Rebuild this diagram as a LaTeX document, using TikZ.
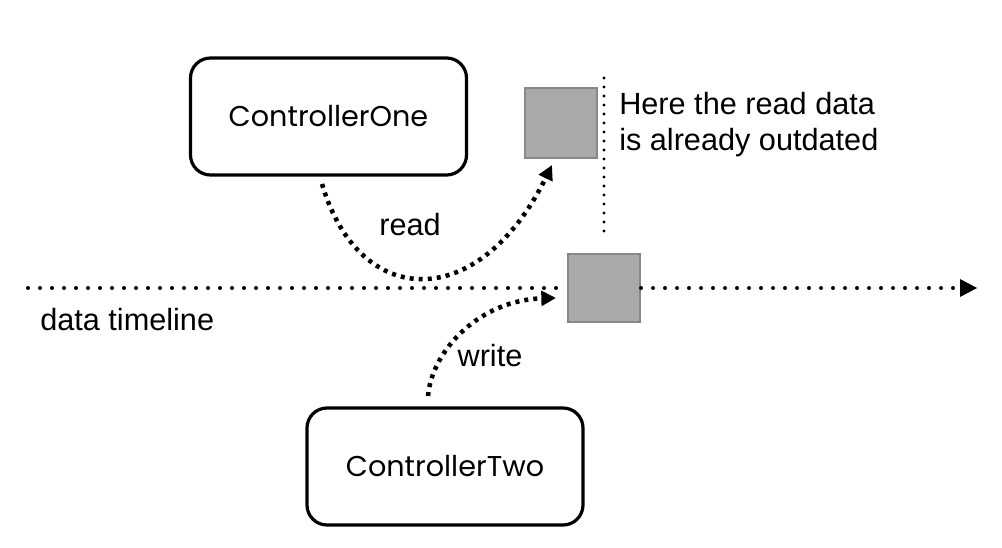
\documentclass[tikz,border=0pt]{standalone}
\usepackage{fontspec}
\setmainfont{Liberation Sans}
\newfontfamily\ctrlfont{Poppins}
\usetikzlibrary{arrows.meta}
\definecolor{sqfill}{HTML}{A8A9A8}
\definecolor{sqdraw}{HTML}{87888B}
\begin{document}
\begin{tikzpicture}[x=0.75pt,y=-0.75pt,
  ctrlbox/.style={draw=black, line width=2.4pt, rounded corners=15pt, inner sep=0pt,
    font=\ctrlfont\fontsize{21.5}{26}\selectfont, minimum width=207pt, minimum height=87.75pt},
  databox/.style={draw=sqdraw, fill=sqfill, line width=1.5pt, inner sep=0pt},
  lbl/.style={font=\fontsize{23}{27}\selectfont, inner sep=0pt},
  timedots/.style={line width=3pt, line cap=round, dash pattern=on 0pt off 9pt},
  vdots/.style={line width=2.4pt, line cap=round, dash pattern=on 0pt off 6.75pt},
  flowdots/.style={line width=3.4pt, dash pattern=on 3pt off 3.8pt,
    -{Triangle[length=11pt,width=11pt]}}
]
\useasboundingbox (0,0) rectangle (1002,548);
\node[ctrlbox] (c1) at (328.5,116.5) {ControllerOne};
\node[ctrlbox] (c2) at (445,466.5) {ControllerTwo};
\node[databox, minimum width=54pt, minimum height=52.5pt] (s1) at (561,123) {};
\node[databox, minimum width=54pt, minimum height=51pt] (s2) at (604,288) {};
% timeline
\coordinate (tl0) at (28,288);
\coordinate (tl1) at (977,288);
\draw[timedots] (tl0) -- (s2.west);
\draw[timedots] (s2.east) -- ([xshift=-16]tl1);
\fill (tl1) -- ++(-17,-9) -- ++(0,18) -- cycle;
% vertical dotted line
\coordinate (v0) at (604,78);
\coordinate (v1) at (604,234);
\draw[vdots] (v0) -- (v1);
% read / write curves
\coordinate (r0) at (322,184);
\coordinate (r1) at (552,165);
\draw[flowdots] (r0) .. controls (360,312) and (480,312) .. (r1);
\coordinate (w0) at (428,396);
\coordinate (w1) at (556,298);
\draw[flowdots] (w0) .. controls (432,350) and (480,300) .. (w1);
% labels
\node[lbl] (lr) at (410,225) {read};
\node[lbl] (lw) at (490,356) {write};
\node[lbl, anchor=west] (ldt) at (40,320) {data timeline};
\node[lbl, anchor=west, align=left] (lh) at (619,125) {Here the read data\\is already outdated};
\end{tikzpicture}
\end{document}
